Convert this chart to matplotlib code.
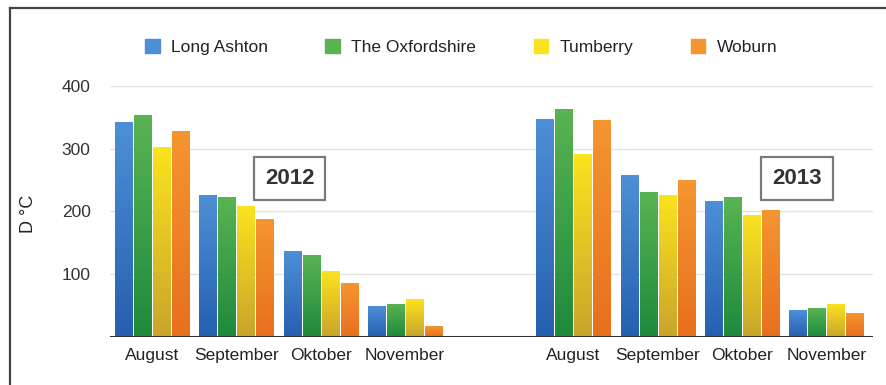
import matplotlib
matplotlib.use('Agg')
import matplotlib.pyplot as plt
import numpy as np
from matplotlib.patches import Patch
from matplotlib.colors import LinearSegmentedColormap
from matplotlib.lines import Line2D

plt.rcParams['font.family'] = ['Liberation Sans', 'DejaVu Sans']

months = ['August', 'September', 'Oktober', 'November']
years = ['2012', '2013']
stations = ['Long Ashton', 'The Oxfordshire', 'Tumberry', 'Woburn']

# degree days per station, 2012 then 2013 (Aug, Sep, Okt, Nov)
long_ashton = [342, 225, 136, 48, 347, 257, 216, 42]
oxfordshire = [353, 223, 130, 51, 362, 231, 223, 45]
tumberry = [302, 208, 105, 59, 291, 225, 193, 51]
woburn = [328, 188, 85, 17, 345, 250, 202, 37]
series = [long_ashton, oxfordshire, tumberry, woburn]

# (top colour, bottom colour) per station
grad = [('#4d8fd6', '#2660b0'),
        ('#58b352', '#1f8a3c'),
        ('#fbe21e', '#c9a52c'),
        ('#f49530', '#e8701e')]

fig = plt.figure(figsize=(8.87, 3.85), dpi=100)
ax = fig.add_axes([0.124, 0.1247, 0.86, 0.652])

x = np.array([0, 1, 2, 3, 5, 6, 7, 8])
step = 0.225
offs = (np.arange(4) - 1.5) * step

for i, vals in enumerate(series):
    bars = ax.bar(x + offs[i], vals, width=step - 0.02, color='none', zorder=3)
    cmap = LinearSegmentedColormap.from_list('g%d' % i, [grad[i][1], grad[i][0]])
    for b in bars:
        x0, y0 = b.get_x(), b.get_y()
        w, h = b.get_width(), b.get_height()
        ax.imshow(np.linspace(0, 1, 50).reshape(-1, 1), cmap=cmap, origin='lower',
                  extent=(x0, x0 + w, y0, y0 + h), aspect='auto', zorder=3)

ax.set_xlim(-0.5, 8.55)
ax.set_ylim(0, 400)

ax.set_yticks([100, 200, 300, 400])
ax.tick_params(axis='y', length=0, pad=14, labelsize=12.5, labelcolor='#333333')
ax.set_xticks(x)
ax.set_xticklabels(months * 2)
ax.tick_params(axis='x', length=0, pad=8, labelsize=12.5, labelcolor='#222222')
ax.grid(axis='y', color='#e2e2e2', lw=1, zorder=0)
for s in ax.spines.values():
    s.set_visible(False)
ax.axhline(0, color='#333333', lw=2.2, zorder=4)

ax.set_ylabel('D °C', fontsize=13, color='#222222')
ax.yaxis.set_label_coords(-0.096, 0.49)

for xp, yr in [(1.63, years[0]), (7.65, years[1])]:
    ax.text(xp, 253, yr, ha='center', va='center', fontsize=16, fontweight='bold',
            color='#333333', zorder=5,
            bbox=dict(boxstyle='square,pad=0.5', fc='white', ec='#7a7a7a', lw=1.6))

handles = [Patch(color=g[0]) for g in grad]
fig.legend(handles, stations, loc='center', bbox_to_anchor=(0.52, 0.878), ncol=4,
           frameon=False, fontsize=12.5, handlelength=0.85, handleheight=0.85,
           handletextpad=0.65, columnspacing=3.3, labelcolor='#222222')

# outer frame (top and left only)
fig.add_artist(Line2D([0.0113, 1], [0.979, 0.979], transform=fig.transFigure,
                      color='#444444', lw=1.6))
fig.add_artist(Line2D([0.0113, 0.0113], [0, 0.979], transform=fig.transFigure,
                      color='#444444', lw=1.6))

fig.savefig('out.png', dpi=100)
